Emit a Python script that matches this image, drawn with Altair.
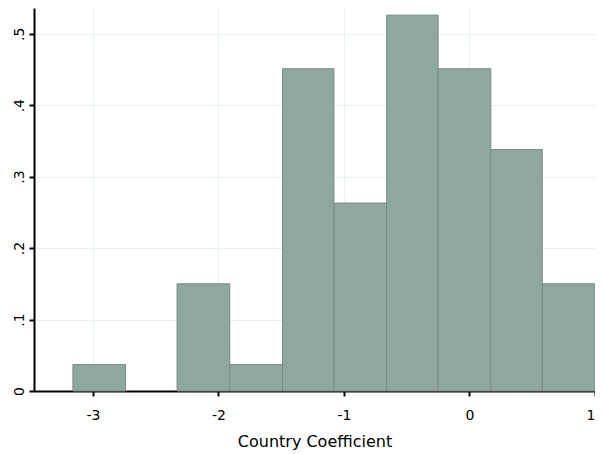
import altair as alt
import pandas as pd

bin_edges = [-3.16, -2.74, -2.33, -1.91, -1.49, -1.08, -0.66, -0.25, 0.17, 0.58, 1.00]
density = [0.037, 0.0, 0.150, 0.037, 0.451, 0.263, 0.526, 0.451, 0.338, 0.150]
x_ticks = [-3, -2, -1, 0, 1]
y_ticks = [0, 0.1, 0.2, 0.3, 0.4, 0.5]

df = pd.DataFrame({
    "start": bin_edges[:-1],
    "end": bin_edges[1:],
    "density": density,
})
df = df[df["density"] > 0]

FONT = "DejaVu Sans"

bars = alt.Chart(df).mark_rect(
    fill="#8fa89e", stroke="#7a8a84", strokeWidth=1
).encode(
    x=alt.X("start:Q",
            scale=alt.Scale(domain=[-3.47, 1.0], nice=False, zero=False),
            axis=alt.Axis(values=x_ticks, title="Country Coefficient",
                          format="d", labelExpr="replace(datum.label, '−', '-')")),
    x2="end:Q",
    y=alt.Y("density:Q",
            scale=alt.Scale(domain=[0, 0.536], nice=False),
            axis=alt.Axis(values=y_ticks, title=None,
                          labelExpr="datum.value == 0 ? '0' : replace(format(datum.value, '.1f'), '0.', '.')")),
    y2=alt.Y2(datum=0),
)

chart = bars.properties(
    width=561, height=383,
    autosize=alt.AutoSizeParams(type="none"),
    padding={"left": 26, "top": 0, "right": 0, "bottom": 60},
).configure_view(
    stroke=None
).configure_axis(
    domainColor="black", domainWidth=2,
    tickColor="black", tickWidth=2, tickSize=5,
    gridColor="#e6f0f1", gridWidth=1,
    labelFont=FONT, labelFontSize=14, labelColor="black",
    titleFont=FONT, titleFontSize=16, titleFontWeight="normal", titleColor="black",
).configure_axisY(
    labelAngle=270, labelAlign="center", labelBaseline="bottom", labelPadding=3,
).configure_axisX(
    labelPadding=12, titlePadding=11,
)

chart.save("out.html", embed_options={"renderer": "svg", "actions": False})
